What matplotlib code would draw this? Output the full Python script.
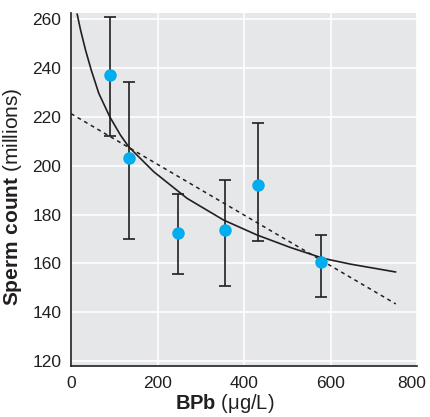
import matplotlib
matplotlib.use("Agg")
import matplotlib.pyplot as plt
import matplotlib.transforms as mtransforms

# Data
bpb = [91, 135, 248, 356, 433, 578]
sperm = [237, 203, 172.4, 173.8, 192.1, 160.5]
err_low = [212.2, 169.8, 155.6, 150.6, 169.1, 146.3]
err_high = [261, 234.3, 188.6, 194.3, 217.4, 171.8]

# Fitted curve
curve_x = [14.3, 22.0, 33.5, 46.7, 64.3, 89.7, 114.4, 133.6, 191.4, 268.6, 353.3, 430.5, 507.5, 584.5, 646.2, 750.3]
curve_y = [262.0, 255.6, 247.4, 239.2, 229.6, 220.0, 212.5, 207.7, 197.5, 186.6, 177.7, 171.6, 166.5, 162.0, 159.7, 156.5]

# Linear fit (dashed)
lin_x = [0, 751]
lin_y = [221.3, 143.4]

xticks = [0, 200, 400, 600, 800]
yticks = [120, 140, 160, 180, 200, 220, 240, 260]

font = ['Liberation Sans', 'DejaVu Sans']
plt.rcParams['font.family'] = font
plt.rcParams['mathtext.fontset'] = 'custom'
plt.rcParams['mathtext.rm'] = 'Liberation Sans'
plt.rcParams['mathtext.bf'] = 'Liberation Sans:bold'

dark = '#231F20'
fig = plt.figure(figsize=(4.3, 4.17), dpi=100)
ax = fig.add_axes([71/430, 51/417, 346/430, 353/417])
ax.set_facecolor('#E6E7E8')
ax.set_xlim(0, 800)
ax.set_ylim(118, 262.5)
ax.set_xticks(xticks)
ax.set_yticks(yticks)
ax.grid(True, color='white', linewidth=1.2)
ax.set_axisbelow(True)
for s in ['top', 'right']:
    ax.spines[s].set_visible(False)
for s in ['left', 'bottom']:
    ax.spines[s].set_color(dark)
    ax.spines[s].set_linewidth(1.2)
ax.tick_params(length=0, pad=7, labelsize=12.5, colors=dark)

ax.plot(lin_x, lin_y, color=dark, linestyle=(0, (2.5, 2.5)), linewidth=1.1, zorder=3)
ax.plot(curve_x, curve_y, color=dark, linewidth=1.2, zorder=3)

yerr = [[s - l for s, l in zip(sperm, err_low)], [h - s for s, h in zip(sperm, err_high)]]
ax.errorbar(bpb, sperm, yerr=yerr, fmt='none', ecolor=dark, elinewidth=1.2,
            capsize=4.5, capthick=1.2, zorder=4)
ax.plot(bpb, sperm, 'o', color='#00AEEF', markersize=9, markeredgewidth=0, zorder=5)

ax.set_xlabel(r'$\mathbf{BPb}$ (μg/L)', fontsize=14.5, color=dark)
ax.xaxis.set_label_coords(0.445, -0.075)
ax.set_ylabel(r'$\mathbf{Sperm\ count}$ (millions)', fontsize=15, color=dark)
ax.yaxis.set_label_coords(-0.135, 0.48)

# keep the last x tick label inside the figure
last = ax.get_xticklabels()[-1]
last.set_transform(last.get_transform() + mtransforms.ScaledTranslation(-5/100, 0, fig.dpi_scale_trans))

fig.savefig('out.png', dpi=100)
